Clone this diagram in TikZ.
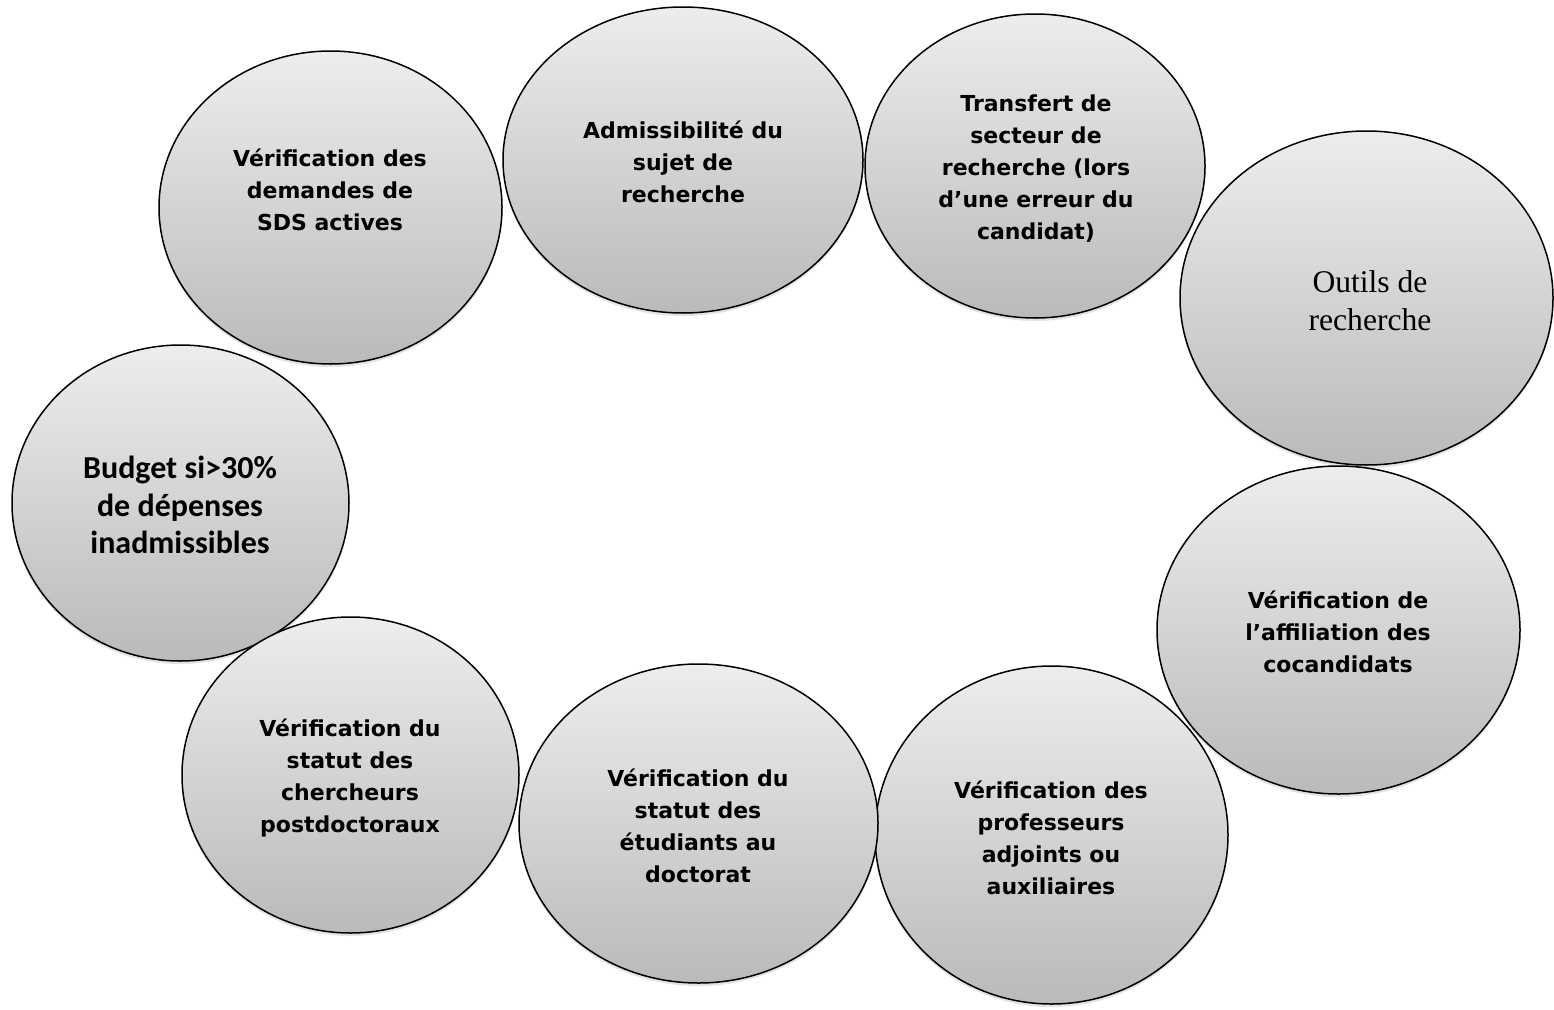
\documentclass[tikz,border=0pt]{standalone}
\usepackage{fontspec}
\setmainfont{DejaVu Sans}
\newfontfamily\calibfont{Carlito}
\newfontfamily\timesfont{Liberation Serif}
\usetikzlibrary{shapes.geometric,shadows}
\definecolor{topgray}{RGB}{237,237,237}
\definecolor{botgray}{RGB}{186,186,186}
\tikzset{
  bubble/.style={ellipse, draw=black, line width=1.5pt, inner sep=0pt,
    top color=topgray, bottom color=botgray,
    drop shadow={shadow xshift=0pt, shadow yshift=-3pt, opacity=0.22}},
  txt/.style={align=center, inner sep=0pt,
    font=\fontsize{22}{32}\selectfont\bfseries},
  budgettxt/.style={align=center, inner sep=0pt,
    font=\calibfont\fontsize{32}{37.5}\selectfont\bfseries},
  serif/.style={align=center, inner sep=0pt,
    font=\timesfont\fontsize{31.6}{38}\selectfont}
}
\begin{document}
\begin{tikzpicture}[x=1pt,y=-1pt]
\useasboundingbox (0,0) rectangle (1554,1009);
\fill[white] (0,0) rectangle (1554,1009);
% ellipses
\node[bubble, minimum width=343pt, minimum height=313pt] (sds) at (330.5,207.5) {};
\node[bubble, minimum width=360pt, minimum height=306pt] (adm) at (683,160) {};
\node[bubble, minimum width=340pt, minimum height=304pt] (trf) at (1035,166) {};
\node[bubble, minimum width=373pt, minimum height=334pt] (out) at (1366.5,298) {};
\node[bubble, minimum width=363pt, minimum height=328pt] (aff) at (1338.5,630) {};
\node[bubble, minimum width=353pt, minimum height=338pt] (prof) at (1051.5,835) {};
\node[bubble, minimum width=359pt, minimum height=319pt] (doc) at (698.5,823.5) {};
\node[bubble, minimum width=337pt, minimum height=316pt] (bud) at (180.5,503) {};
\node[bubble, minimum width=337pt, minimum height=316pt] (pdoc) at (350.5,775) {};
% texts
\node[txt] (sdsT) at (330,190) {Vérification des\\demandes de\\SDS actives};
\node[txt] (admT) at (683,162) {Admissibilité du\\sujet de\\recherche};
\node[txt] (trfT) at (1036,169) {Transfert de\\secteur de\\recherche (lors\\d’une erreur du\\candidat)};
\node[serif] (outT) at (1370,301) {Outils de\\recherche};
\node[txt] (affT) at (1338,632) {Vérification de\\l’affiliation des\\cocandidats};
\node[txt] (profT) at (1051,838) {Vérification des\\professeurs\\adjoints ou\\auxiliaires};
\node[txt] (docT) at (698,826) {Vérification du\\statut des\\étudiants au\\doctorat};
\node[txt] (pdocT) at (350,778) {Vérification du\\statut des\\chercheurs\\postdoctoraux};
\node[budgettxt] (budT) at (180,505) {Budget si>30\%\\de dépenses\\inadmissibles};
\end{tikzpicture}
\end{document}
